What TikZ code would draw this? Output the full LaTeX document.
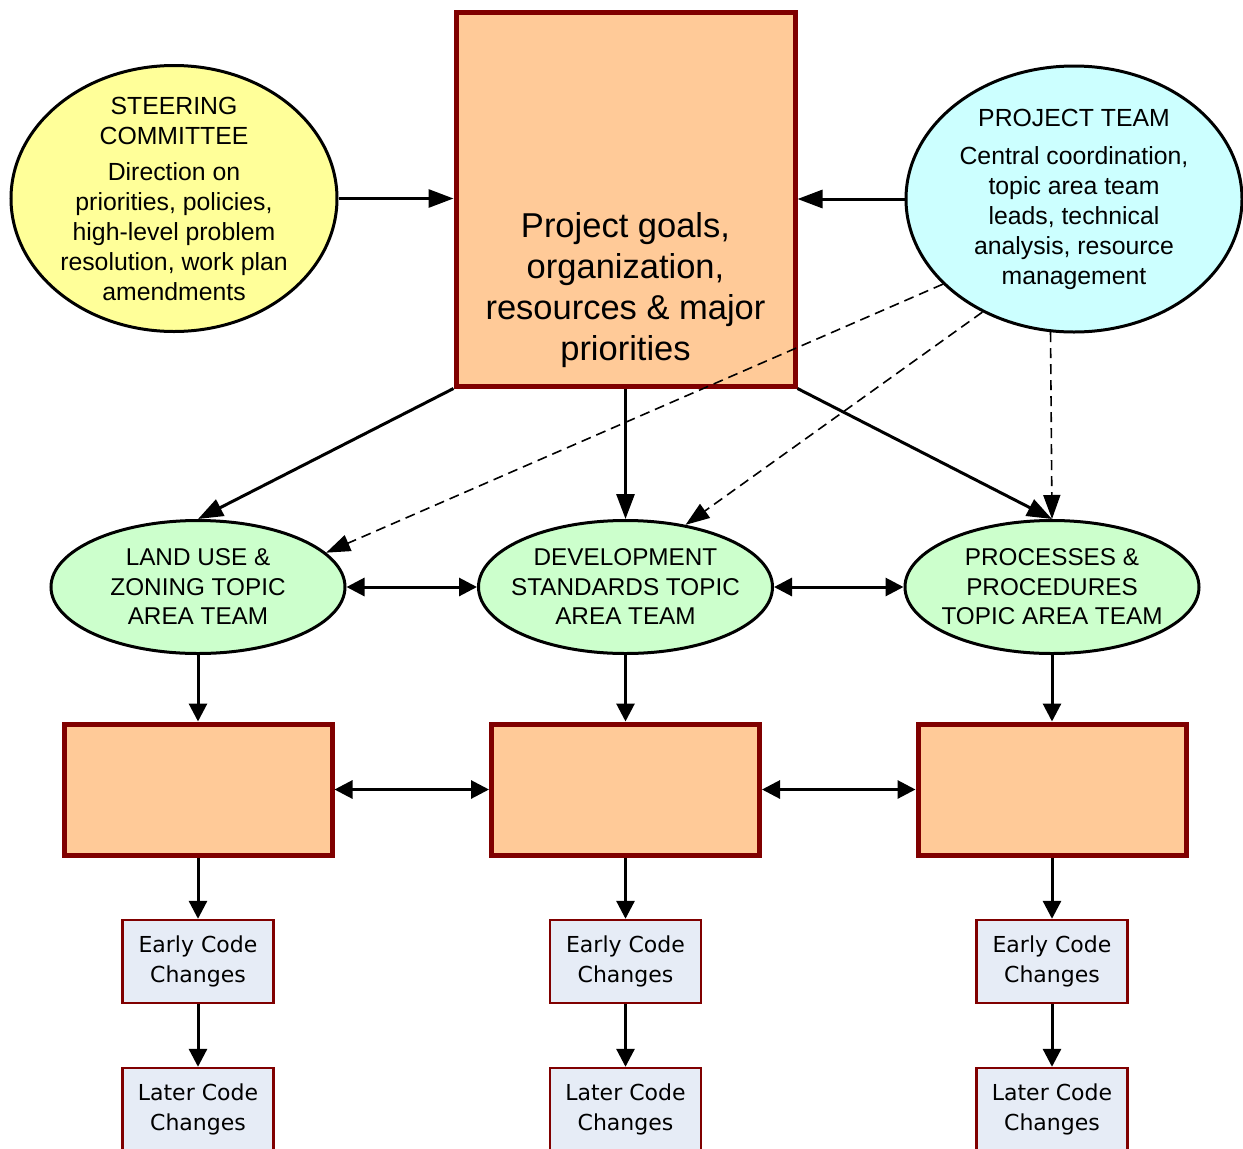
\documentclass[tikz,border=0pt]{standalone}
\usepackage{fontspec}
\setmainfont{Liberation Sans}
\newfontfamily\boxfont{DejaVu Sans}
\usetikzlibrary{shapes.geometric,arrows.meta}
\definecolor{dred}{HTML}{800000}
\definecolor{peach}{HTML}{FFCA98}
\definecolor{yell}{HTML}{FFFF99}
\definecolor{cyanl}{HTML}{CCFFFF}
\definecolor{greenl}{HTML}{CCFFCC}
\definecolor{bluel}{HTML}{E6ECF6}
\tikzset{
  ellbox/.style={ellipse, draw=black, line width=3pt, inner sep=0pt},
  bigbox/.style={rectangle, draw=dred, fill=peach, line width=5pt, inner sep=0pt},
  codebox/.style={rectangle, draw=dred, fill=bluel, line width=2.4pt, inner sep=0pt,
     minimum width=151pt, minimum height=83pt, align=center,
     font=\boxfont\fontsize{22}{30}\selectfont},
  ttxt/.style={align=center, inner sep=0pt, font=\fontsize{24.8}{30}\selectfont},
  toptxt/.style={align=center, inner sep=0pt, font=\fontsize{24.3}{29.5}\selectfont},
  bigarr/.style={line width=3pt, -{Triangle[length=25pt,width=18pt]}},
  arr/.style={line width=3pt, -{Triangle[length=18pt,width=18pt]}},
  darr/.style={line width=3pt, {Triangle[length=18pt,width=18pt]}-{Triangle[length=18pt,width=18pt]}},
  dsh/.style={line width=1.6pt, dash pattern=on 10pt off 6pt, -{Triangle[length=24pt,width=17pt]}}
}
\begin{document}
\begin{tikzpicture}[x=1pt,y=-1pt]
\useasboundingbox (0,0) rectangle (1243,1149);
\clip (0,0) rectangle (1243,1149);
\fill[white] (0,0) rectangle (1243,1149);

% top row
\node[ellbox, fill=yell, minimum width=326pt, minimum height=266pt] (steer) at (174,198.5) {};
\node[ttxt] (steerT) at (174,199) {STEERING\\COMMITTEE\\[6pt]Direction on\\priorities, policies,\\high-level problem\\resolution, work plan\\amendments};

\node[bigbox, minimum width=339pt, minimum height=374pt] (goals) at (625.5,199) {};
\node[align=center, inner sep=0pt, font=\fontsize{34.5}{41}\selectfont] (goalsT) at (625.5,290) {Project goals,\\organization,\\resources \& major\\priorities};

\node[ellbox, fill=cyanl, minimum width=336pt, minimum height=266pt] (pt) at (1074,199) {};
\node[ttxt] (ptT) at (1074,199) {PROJECT TEAM\\[8pt]Central coordination,\\topic area team\\leads, technical\\analysis, resource\\management};

% topic teams
\node[ellbox, fill=greenl, minimum width=294pt, minimum height=133pt] (land) at (198,587) {};
\node[toptxt] (landT) at (198,587) {LAND USE \&\\ZONING TOPIC\\AREA TEAM};
\node[ellbox, fill=greenl, minimum width=294pt, minimum height=133pt] (dev) at (625.5,587) {};
\node[toptxt] (devT) at (625.5,587) {DEVELOPMENT\\STANDARDS TOPIC\\AREA TEAM};
\node[ellbox, fill=greenl, minimum width=294pt, minimum height=133pt] (proc) at (1052,587) {};
\node[toptxt] (procT) at (1052,587) {PROCESSES \&\\PROCEDURES\\TOPIC AREA TEAM};

% orange boxes
\node[bigbox, minimum width=268pt, minimum height=131pt] (b1) at (198,789.5) {};
\node[bigbox, minimum width=268pt, minimum height=131pt] (b2) at (625.5,789.5) {};
\node[bigbox, minimum width=268pt, minimum height=131pt] (b3) at (1052,789.5) {};

% code boxes
\node[codebox] (e1) at (198,961.5) {Early Code\\Changes};
\node[codebox] (e2) at (625.5,961.5) {Early Code\\Changes};
\node[codebox] (e3) at (1052,961.5) {Early Code\\Changes};
\node[codebox] (l1) at (198,1109.5) {Later Code\\Changes};
\node[codebox] (l2) at (625.5,1109.5) {Later Code\\Changes};
\node[codebox] (l3) at (1052,1109.5) {Later Code\\Changes};

% connectors
\draw[bigarr] (steer.east) -- (steer.east -| goals.west);
\draw[bigarr] (pt.west) -- (pt.west -| goals.east);
\draw[bigarr] (goals.south west) -- (land.north);
\draw[bigarr] (goals.south) -- (dev.north);
\draw[bigarr] (goals.south east) -- (proc.north);

\draw[dsh] (pt.213.7) -- (land.15.6);
\draw[dsh] (pt.231.2) -- (dev.46.8);
\draw[dsh] (pt.260.6) -- (proc.north);

\draw[darr] (land.east) -- (dev.west);
\draw[darr] (dev.east) -- (proc.west);

\draw[arr] (land.south) -- (b1.north);
\draw[arr] (dev.south) -- (b2.north);
\draw[arr] (proc.south) -- (b3.north);

\draw[darr] (b1.east) -- (b2.west);
\draw[darr] (b2.east) -- (b3.west);

\draw[arr] (b1.south) -- (e1.north);
\draw[arr] (b2.south) -- (e2.north);
\draw[arr] (b3.south) -- (e3.north);
\draw[arr] (e1.south) -- (l1.north);
\draw[arr] (e2.south) -- (l2.north);
\draw[arr] (e3.south) -- (l3.north);
\end{tikzpicture}
\end{document}
